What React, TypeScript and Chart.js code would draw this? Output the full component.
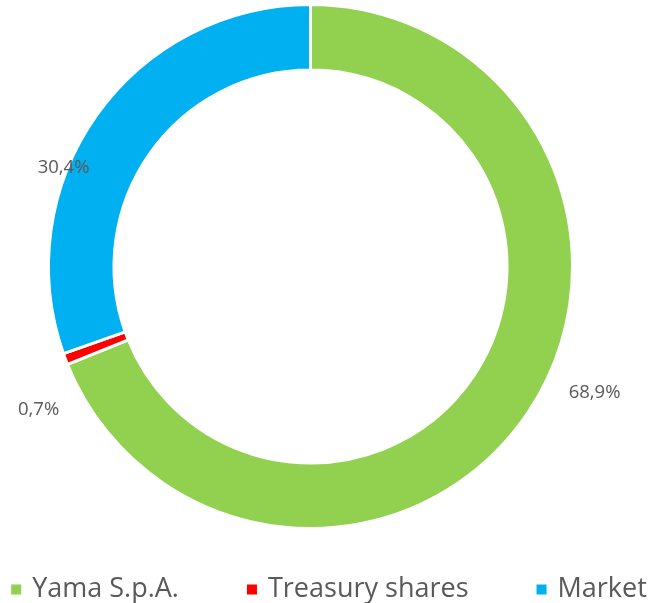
import React, { useEffect, useRef } from 'react';
import { Chart, registerables } from 'chart.js';

Chart.register(...registerables);

const categories = ['Yama S.p.A.', 'Treasury shares', 'Market'];
const shares = [68.9, 0.7, 30.4];
const valueLabels = ['68,9%', '0,7%', '30,4%'];
const colors = ['#92D050', '#FF0000', '#00B0F0'];

const FONT = '"Open Sans", "Noto Sans", sans-serif';
const TEXT = '#595959';

// label placement relative to each slice (angle shift from mid-angle in degrees, radius factor of outer radius)
const labelShift = [-10, -7, -13.5];
const labelRadial = [1.187, 1.172, 1.015];

const sliceLabels = {
  id: 'sliceLabels',
  afterDatasetsDraw(chart: any) {
    const meta = chart.getDatasetMeta(0);
    const ctx = chart.ctx;
    ctx.save();
    ctx.font = `18.5px ${FONT}`;
    ctx.fillStyle = TEXT;
    ctx.textAlign = 'center';
    ctx.textBaseline = 'middle';
    meta.data.forEach((arc: any, i: number) => {
      const p = arc.getProps(['x', 'y', 'startAngle', 'endAngle', 'outerRadius'], true);
      const a = (p.startAngle + p.endAngle) / 2 + (labelShift[i] * Math.PI) / 180;
      const r = p.outerRadius * labelRadial[i];
      ctx.fillText(valueLabels[i], p.x + Math.cos(a) * r, p.y + Math.sin(a) * r);
    });
    ctx.restore();
  },
};

const bottomLegend = {
  id: 'bottomLegend',
  afterDraw(chart: any) {
    const ctx = chart.ctx;
    ctx.save();
    ctx.font = `27px ${FONT}`;
    const box = 10;
    const gap = 11;
    const itemGap = 68;
    const widths = categories.map((c) => box + gap + ctx.measureText(c).width);
    const total = widths.reduce((a, b) => a + b, 0) + itemGap * (categories.length - 1);
    let x = 329 - total / 2;
    const yMid = 589.5;
    categories.forEach((c, i) => {
      ctx.fillStyle = colors[i];
      ctx.fillRect(x, yMid - box / 2, box, box);
      ctx.fillStyle = TEXT;
      ctx.textAlign = 'left';
      ctx.textBaseline = 'alphabetic';
      ctx.fillText(c, x + box + gap, 597);
      x += widths[i] + itemGap;
    });
    ctx.restore();
  },
};

export default function App() {
  const ref = useRef<HTMLCanvasElement | null>(null);
  useEffect(() => {
    if (!ref.current) return;
    const chart = new Chart(ref.current, {
      type: 'doughnut',
      data: {
        labels: categories,
        datasets: [
          {
            data: shares,
            backgroundColor: colors,
            borderColor: '#FFFFFF',
            borderWidth: 3,
            radius: 262,
          } as any,
        ],
      },
      options: {
        responsive: false,
        animation: false,
        cutout: '75%',
        layout: { padding: { top: 5, bottom: 75, left: 0, right: 33 } },
        plugins: {
          legend: { display: false },
          tooltip: { enabled: false },
        },
      },
      plugins: [sliceLabels, bottomLegend],
    });
    return () => chart.destroy();
  }, []);
  return (
    <div style={{ position: 'absolute', left: 0, top: 0, width: 654, height: 603, background: '#fff' }}>
      <canvas ref={ref} width={654} height={603} style={{ display: 'block' }} />
    </div>
  );
}
